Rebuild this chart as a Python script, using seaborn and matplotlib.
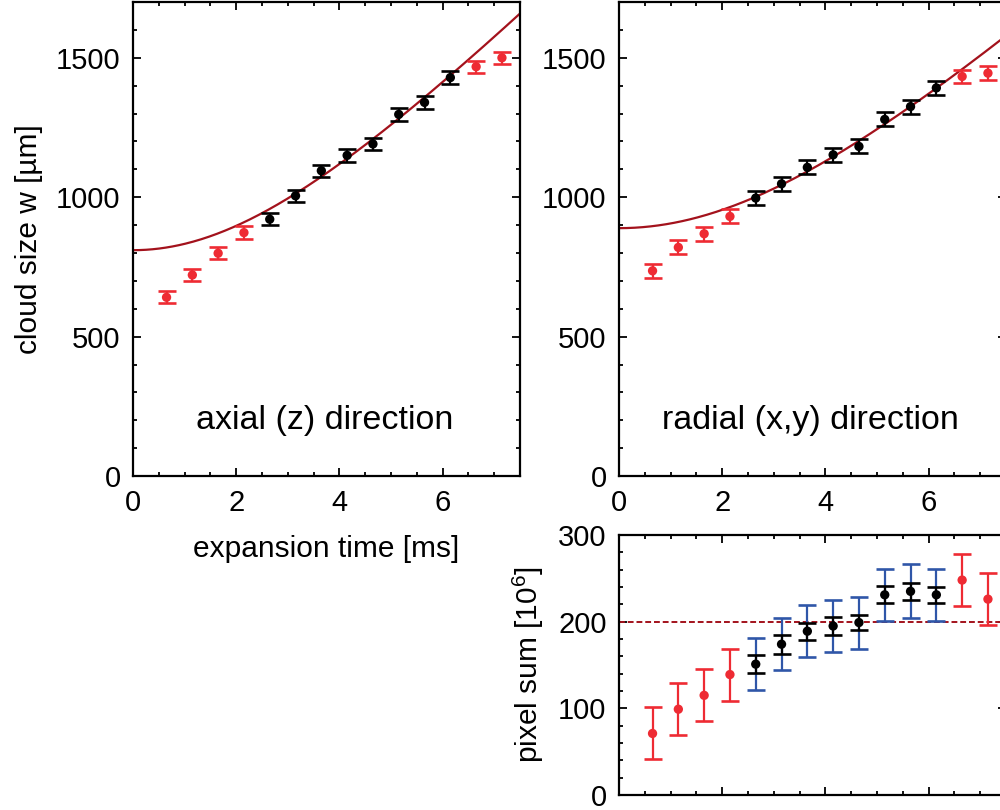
import numpy as np
import pandas as pd
import matplotlib
matplotlib.use("Agg")
import matplotlib.pyplot as plt
from matplotlib.ticker import MultipleLocator
import seaborn as sns

# expansion times (ms)
t_ms = [0.65, 1.15, 1.65, 2.15, 2.65, 3.15, 3.65, 4.15, 4.65, 5.15, 5.65, 6.15, 6.65, 7.15]
# points used for the fit (black) vs. excluded (red)
in_fit = [False, False, False, False, True, True, True, True, True, True, True, True, False, False]

# cloud size, axial direction (um)
w_axial = [641, 721, 799, 873, 921, 1005, 1095, 1150, 1191, 1297, 1340, 1429, 1468, 1500]
w_axial_err = [22, 22, 22, 22, 22, 22, 22, 22, 22, 22, 22, 23, 22, 22]
# cloud size, radial direction (um)
w_radial = [736, 820, 869, 931, 997, 1048, 1107, 1152, 1182, 1279, 1325, 1392, 1433, 1445]
w_radial_err = [25, 25, 25, 25, 26, 25, 25, 25, 25, 25, 25, 25, 25, 25]

# ballistic expansion fit parameters: w(t) = sqrt(w0^2 + (v t)^2)
fit_axial = {"w0": 810.0, "v": 193.0}
fit_radial = {"w0": 889.0, "v": 174.0}

# pixel sum (10^6)
pix_sum = [71, 99, 115, 139, 151, 174, 189, 195, 199, 231, 235, 231, 248, 226]
pix_err_total = [30, 30, 30, 30, 30, 30, 30, 30, 30, 30, 31, 30, 30, 30]
pix_err_stat = [0, 0, 0, 0, 10, 11, 10, 10, 9, 10, 10, 9.5, 0, 0]
pix_reference = 200

RED = "#ee2b33"
BLUE = "#2f56a8"
FIT = "#a3121c"

sns.set_style("ticks")
plt.rcParams["font.family"] = ["Liberation Sans", "DejaVu Sans"]
plt.rcParams["mathtext.fontset"] = "custom"
plt.rcParams["mathtext.rm"] = "Liberation Sans"
plt.rcParams["mathtext.it"] = "Liberation Sans:italic"
for key in ["text.color", "axes.labelcolor", "xtick.color", "ytick.color",
            "xtick.labelcolor", "ytick.labelcolor"]:
    plt.rcParams[key] = "black"

fig = plt.figure(figsize=(10, 8.1), dpi=100)
ax_ax = fig.add_axes([0.133, 0.4123, 0.387, 0.5852])
ax_rad = fig.add_axes([0.619, 0.4123, 0.387, 0.5852])
ax_pix = fig.add_axes([0.619, 0.0185, 0.387, 0.321])

TICK_FS = 21
LABEL_FS = 21.5


def style_axes(ax, ymajor, yminor):
    ax.set_xlim(0, 7.5)
    ax.xaxis.set_major_locator(MultipleLocator(2))
    ax.xaxis.set_minor_locator(MultipleLocator(0.5))
    ax.yaxis.set_major_locator(MultipleLocator(ymajor))
    ax.yaxis.set_minor_locator(MultipleLocator(yminor))
    ax.tick_params(which="both", direction="in", top=True, right=True,
                   width=1.3, labelsize=TICK_FS, color="black", labelcolor="black")
    ax.tick_params(which="major", length=6, pad=9)
    ax.tick_params(which="minor", length=3)
    for s in ax.spines.values():
        s.set_visible(True)
        s.set_linewidth(1.6)
        s.set_color("black")


def size_panel(ax, w, err, fit, title):
    df = pd.DataFrame({"t": t_ms, "w": w, "err": err, "fit": in_fit})
    tt = np.linspace(0, 7.6, 300)
    curve = pd.DataFrame({"t": tt, "w": np.sqrt(fit["w0"] ** 2 + (fit["v"] * tt) ** 2)})
    sns.lineplot(data=curve, x="t", y="w", color=FIT, lw=1.6, ax=ax, zorder=2)
    for used, col in [(False, RED), (True, "black")]:
        sub = df[df["fit"] == used]
        ax.errorbar(sub["t"], sub["w"], yerr=sub["err"], fmt="none",
                    ecolor=col, elinewidth=1.6, capsize=6.5, capthick=1.9, zorder=3)
        sns.scatterplot(data=sub, x="t", y="w", color=col, s=45,
                        edgecolor="none", ax=ax, zorder=4)
    ax.set_ylim(0, 1700)
    style_axes(ax, 500, 100)
    ax.text(0.495, 0.118, title, transform=ax.transAxes, ha="center",
            va="center", fontsize=24.5)
    ax.set_xlabel("")
    ax.set_ylabel("")


size_panel(ax_ax, w_axial, w_axial_err, fit_axial, "axial (z) direction")
size_panel(ax_rad, w_radial, w_radial_err, fit_radial, "radial (x,y) direction")
ax_ax.set_xlabel("expansion time [ms]", fontsize=LABEL_FS, labelpad=13)
ax_ax.set_ylabel("cloud size w [\u00b5m]", fontsize=LABEL_FS, labelpad=9)

# pixel sum panel
dp = pd.DataFrame({"t": t_ms, "n": pix_sum, "tot": pix_err_total,
                   "stat": pix_err_stat, "fit": in_fit})
ax_pix.axhline(pix_reference, color=FIT, lw=1.4, ls=(0, (3, 1.5)), zorder=1)
out = dp[~dp["fit"]]
inn = dp[dp["fit"]]
ax_pix.errorbar(out["t"], out["n"], yerr=out["tot"], fmt="none", ecolor=RED,
                elinewidth=1.6, capsize=6.5, capthick=1.9, zorder=3)
ax_pix.errorbar(inn["t"], inn["n"], yerr=inn["tot"], fmt="none", ecolor=BLUE,
                elinewidth=1.6, capsize=6.5, capthick=1.9, zorder=3)
ax_pix.errorbar(inn["t"], inn["n"], yerr=inn["stat"], fmt="none", ecolor="black",
                elinewidth=1.6, capsize=6.5, capthick=1.9, zorder=4)
sns.scatterplot(data=out, x="t", y="n", color=RED, s=45, edgecolor="none",
                ax=ax_pix, zorder=5)
sns.scatterplot(data=inn, x="t", y="n", color="black", s=45, edgecolor="none",
                ax=ax_pix, zorder=5)
ax_pix.set_ylim(0, 300)
style_axes(ax_pix, 100, 20)
ax_pix.tick_params(axis="x", labelbottom=False)
ax_pix.set_xlabel("")
ax_pix.set_ylabel("pixel sum [10$^{6}$]", fontsize=LABEL_FS, labelpad=9)

fig.savefig("out.png", dpi=100)
